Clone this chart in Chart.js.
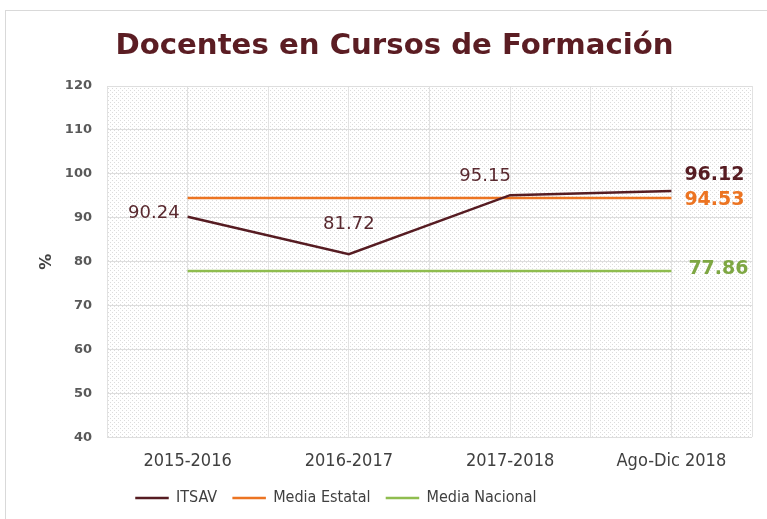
<!DOCTYPE html>
<html>
<head>
<meta charset="utf-8">
<script src="https://cdn.jsdelivr.net/npm/chart.js@4/dist/chart.umd.min.js"></script>
<style>
  html, body { margin: 0; padding: 0; background: #fff; overflow: hidden; }
  #wrap { position: relative; width: 767px; height: 519px; }
  #frame { position: absolute; left: 5px; top: 10px; width: 800px; height: 600px; border: 1px solid #d9d9d9; box-sizing: border-box; }
  canvas { position: absolute; left: 0; top: 0; }
</style>
</head>
<body>
<div id="wrap">
  <div id="frame"></div>
  <canvas id="chart" width="767" height="519"></canvas>
</div>
<script>
const categories = ['2015-2016', '2016-2017', '2017-2018', 'Ago-Dic 2018']
const itsavValues = [90.24, 81.72, 95.15, 96.12]
const estatalValues = [94.53, 94.53, 94.53, 94.53]
const nacionalValues = [77.86, 77.86, 77.86, 77.86]
const yTicks = [40, 50, 60, 70, 80, 90, 100, 110, 120]

// which points get a value label (per dataset)
const itsavLabelled = [true, true, true, true]
const estatalLabelled = [false, false, false, true]
const nacionalLabelled = [false, false, false, true]

const maroon = '#561c22'
const orange = '#ec7422'
const green = '#8fbd4f'

// dotted pattern behind the plot area
const makePattern = (ctx) => {
  const c = document.createElement('canvas')
  c.width = 4
  c.height = 4
  const p = c.getContext('2d')
  p.fillStyle = '#ffffff'
  p.fillRect(0, 0, 4, 4)
  p.fillStyle = '#dcdcdc'
  p.fillRect(0, 0, 1, 1)
  p.fillRect(2, 2, 1, 1)
  return ctx.createPattern(c, 'repeat')
}

const patternBg = {
  id: 'patternBg',
  beforeDraw(chart) {
    const { ctx, chartArea: a } = chart
    ctx.save()
    ctx.fillStyle = makePattern(ctx)
    ctx.fillRect(a.left, a.top, a.right - a.left, a.bottom - a.top)
    ctx.restore()
  }
}

// move the legend a bit to the left like the original
const legendShift = {
  id: 'legendShift',
  afterLayout(chart) {
    if (chart.legend) {
      chart.legend.left = 120
    }
  }
}

// value labels next to points
const valueLabels = {
  id: 'valueLabels',
  afterDatasetsDraw(chart) {
    const { ctx } = chart
    chart.data.datasets.forEach((ds, di) => {
      const meta = chart.getDatasetMeta(di)
      meta.data.forEach((pt, i) => {
        if (!ds.showLabel[i]) return
        const st = ds.labelStyle[i]
        ctx.save()
        ctx.font = st.font
        ctx.fillStyle = st.color
        ctx.textAlign = st.align
        ctx.textBaseline = 'middle'
        ctx.fillText(ds.data[i].toFixed(2), pt.x + st.dx, pt.y + st.dy)
        ctx.restore()
      })
    })
  }
}

const regular = '18px "DejaVu Sans"'
const bold = 'bold 19px "DejaVu Sans"'

new Chart(document.getElementById('chart'), {
  type: 'line',
  data: {
    labels: categories,
    datasets: [
      {
        label: 'ITSAV',
        data: itsavValues,
        borderColor: maroon,
        backgroundColor: maroon,
        borderWidth: 2.5,
        pointRadius: 0,
        tension: 0,
        showLabel: itsavLabelled,
        labelStyle: [
          { font: regular, color: '#5a2a30', align: 'right', dx: -8, dy: -3 },
          { font: regular, color: '#5a2a30', align: 'center', dx: 0, dy: -30 },
          { font: regular, color: '#5a2a30', align: 'center', dx: -25, dy: -19 },
          { font: bold, color: maroon, align: 'left', dx: 13, dy: -16 }
        ]
      },
      {
        label: 'Media Estatal',
        data: estatalValues,
        borderColor: orange,
        backgroundColor: orange,
        borderWidth: 2.5,
        pointRadius: 0,
        tension: 0,
        showLabel: estatalLabelled,
        labelStyle: [null, null, null, { font: bold, color: orange, align: 'left', dx: 13, dy: 2 }]
      },
      {
        label: 'Media Nacional',
        data: nacionalValues,
        borderColor: green,
        backgroundColor: green,
        borderWidth: 2.5,
        pointRadius: 0,
        tension: 0,
        showLabel: nacionalLabelled,
        labelStyle: [null, null, null, { font: bold, color: '#7ea743', align: 'left', dx: 17, dy: -2 }]
      }
    ]
  },
  options: {
    responsive: false,
    animation: false,
    layout: { padding: { left: 37, right: 15, top: 10, bottom: 3 } },
    plugins: {
      title: {
        display: true,
        text: 'Docentes en Cursos de Formación',
        color: '#5b1d23',
        font: { family: 'DejaVu Sans', size: 29.2, weight: 'bold' },
        padding: { top: 19, bottom: 22 }
      },
      legend: {
        position: 'bottom',
        align: 'start',
        labels: {
          color: '#404040',
          font: { family: 'DejaVu Sans Condensed', size: 16 },
          boxWidth: 32,
          boxHeight: 1,
          padding: 16,
          generateLabels(chart) {
            return chart.data.datasets.map((ds, i) => ({
              text: ds.label,
              fillStyle: ds.borderColor,
              strokeStyle: ds.borderColor,
              lineWidth: 1.5,
              fontColor: '#404040',
              datasetIndex: i
            }))
          }
        }
      },
      tooltip: { enabled: false }
    },
    scales: {
      x: {
        offset: true,
        grid: { offset: false, color: '#e2e2e2', drawTicks: false },
        border: { display: false },
        ticks: {
          color: '#404040',
          font: { family: 'DejaVu Sans Condensed', size: 18 },
          padding: 13
        },
        afterFit(scale) {
          scale.height = scale.height - 11
        }
      },
      x2: {
        type: 'category',
        labels: categories,
        offset: true,
        grid: { offset: true, color: '#e2e2e2', drawTicks: false },
        border: { display: false },
        ticks: { display: false }
      },
      y: {
        min: 40,
        max: 120,
        afterBuildTicks(scale) {
          scale.ticks = yTicks.map(v => ({ value: v }))
        },
        grid: { color: '#dedede', drawTicks: false },
        border: { display: false },
        ticks: {
          color: '#595959',
          font: { family: 'DejaVu Sans', size: 13, weight: 'bold' },
          padding: 15
        },
        title: {
          display: true,
          text: '%',
          color: '#404040',
          font: { family: 'DejaVu Sans', size: 16, weight: 'bold' },
          padding: { top: 0, bottom: 12 }
        },
        afterFit(scale) {
          scale.width = 70
        }
      }
    }
  },
  plugins: [patternBg, legendShift, valueLabels]
})
</script>
</body>
</html>
